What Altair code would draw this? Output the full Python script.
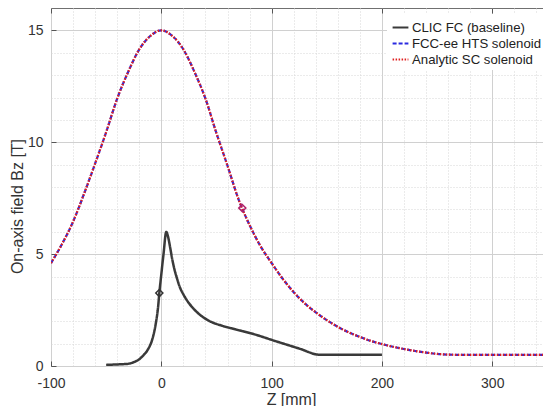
import altair as alt
import pandas as pd

# CLIC FC (baseline)
z_clic = [-50, -40, -30, -25, -20, -16, -12, -8, -5, -3, -1.8, 0, 2, 4.5, 6, 8, 10, 12, 14, 17, 20, 24, 30, 36, 44, 55, 67, 82, 103, 125, 144, 200]
b_clic = [0.05, 0.07, 0.1, 0.17, 0.3, 0.49, 0.75, 1.22, 1.9, 2.6, 3.26, 4.1, 5.0, 6.0, 5.8, 5.3, 4.75, 4.3, 3.95, 3.5, 3.2, 2.88, 2.52, 2.25, 2.0, 1.8, 1.64, 1.45, 1.12, 0.78, 0.5, 0.5]

# FCC-ee HTS solenoid / analytic SC solenoid (overlapping)
z_sol = [-100, -90, -80, -70, -60, -50, -40, -30, -20, -10, 0, 10, 20, 30, 40, 50, 60, 70, 80, 90, 100,
         110, 120, 130, 140, 150, 160, 170, 180, 190, 200, 210, 220, 230, 240, 250, 260, 270, 350]
b_fcc = [4.6, 5.45, 6.45, 7.7, 9.05, 10.45, 11.95, 13.15, 14.15, 14.75, 15.0, 14.75, 14.15, 13.15, 11.95, 10.4, 8.95, 7.45, 6.3, 5.35, 4.6,
         3.9, 3.3, 2.8, 2.4, 2.05, 1.75, 1.5, 1.3, 1.12, 0.98, 0.86, 0.76, 0.67, 0.6, 0.54, 0.51, 0.5, 0.5]
b_analytic = list(b_fcc)

# markers
marker_z = [-1.8, 73.4]
marker_b = [3.26, 7.06]
marker_color = ["#333333", "#b0206a"]

series_names = ["CLIC FC (baseline)", "FCC-ee HTS solenoid", "Analytic SC solenoid"]
series_colors = ["#3a3a3a", "#2a2ae0", "#e02020"]
series_dash = [[1, 0], [4, 2], [1.5, 1.5]]

x_major = [-100, 0, 100, 200, 300]
y_major = [0, 5, 10, 15]

df = pd.concat([
    pd.DataFrame({"z": z_clic, "b": b_clic, "series": series_names[0]}),
    pd.DataFrame({"z": z_sol, "b": b_fcc, "series": series_names[1]}),
    pd.DataFrame({"z": z_sol, "b": b_analytic, "series": series_names[2]}),
])
mdf = pd.DataFrame({"z": marker_z, "b": marker_b, "c": marker_color})

x_grid = list(range(-100, 347, 20))
y_grid = list(range(0, 16, 1))

x_axis = alt.Axis(values=x_grid, title="Z [mm]", orient="bottom",
                  labelExpr="datum.value % 100 === 0 ? '' + datum.value : ''",
                  gridDash={"expr": "datum.value % 100 === 0 ? [] : [1, 2]"},
                  gridColor={"expr": "datum.value % 100 === 0 ? '#d0d0d0' : '#d6d6d6'"},
                  ticks=False, domain=False, labelPadding=10,
                  labelFlush=False, labelOverlap=False, labelBound=False,
                  titleX=240, titleY=38, titleBaseline="alphabetic")
y_axis = alt.Axis(values=y_grid, title="On-axis field Bz [T]", orient="left",
                  labelExpr="datum.value % 5 === 0 ? '' + datum.value : ''",
                  gridDash={"expr": "datum.value % 5 === 0 ? [] : [1, 2]"},
                  gridColor={"expr": "datum.value % 5 === 0 ? '#d0d0d0' : '#d6d6d6'"},
                  ticks=False, domain=False, labelPadding=8,
                  labelOverlap=False, labelFlush=False, labelBound=False,
                  titleX=-34, titleY=198, titleBaseline="middle", titleAlign="center")

x_scale = alt.Scale(domain=[-100, 346], nice=False, zero=False)
y_scale = alt.Scale(domain=[0, 16], nice=False)
x_enc = alt.X("z:Q", scale=x_scale, axis=x_axis)
y_enc = alt.Y("b:Q", scale=y_scale, axis=y_axis)

color_scale = alt.Scale(domain=series_names, range=series_colors)
dash_scale = alt.Scale(domain=series_names, range=series_dash)
legend = alt.Legend(title=None, orient="none", legendX=336, legendY=6,
                    symbolType="stroke", symbolSize=250, symbolStrokeWidth=2.2,
                    labelFontSize=13.2, labelColor="#222222", labelFont="Liberation Sans",
                    fillColor="white", padding=4, rowPadding=-5, labelOffset=2)

layers = []
widths = {series_names[0]: 2.5, series_names[1]: 2.2, series_names[2]: 2.2}
for name in series_names:
    layers.append(
        alt.Chart(df).transform_filter(alt.datum.series == name)
        .mark_line(interpolate="monotone", clip=True, strokeWidth=widths[name])
        .encode(x=x_enc, y=y_enc,
                color=alt.Color("series:N", scale=color_scale, legend=legend, sort=series_names),
                strokeDash=alt.StrokeDash("series:N", scale=dash_scale, legend=legend, sort=series_names))
    )

markers = alt.Chart(mdf).mark_point(shape="diamond", filled=False, size=50, strokeWidth=1.5, opacity=1).encode(
    x=x_enc, y=y_enc, stroke=alt.Stroke("c:N", scale=None))

main = alt.layer(*layers, markers)

tick_common = dict(domain=False, labels=False, grid=False, title="", ticks=True,
                   tickSize=5, tickColor="#555555", tickWidth=1, offset=-5)

ticks_bl = alt.Chart(mdf).mark_point(opacity=0).encode(
    x=alt.X("z:Q", scale=x_scale, axis=alt.Axis(orient="bottom", values=x_major, **tick_common)),
    y=alt.Y("b:Q", scale=y_scale, axis=alt.Axis(orient="left", values=y_major, **tick_common)),
)
ticks_top = alt.Chart(mdf).mark_point(opacity=0).encode(
    x=alt.X("z:Q", scale=x_scale, axis=alt.Axis(orient="top", values=x_major, **tick_common)),
    y=alt.Y("b:Q", scale=y_scale, axis=None),
)

chart = alt.layer(main, ticks_bl, ticks_top).resolve_axis(x="independent", y="independent").properties(
    width=492, height=358,
    autosize=alt.AutoSizeParams(type="none"),
    padding={"left": 51, "top": 8, "right": 0, "bottom": 40},
).configure_view(stroke="#707070", strokeWidth=1).configure_axis(
    labelFont="Liberation Sans", titleFont="Liberation Sans",
    labelFontSize=14, titleFontSize=16, labelColor="#333333", titleColor="#333333",
    titleFontWeight="normal", gridWidth=1
)

chart.save("out.html", embed_options={"renderer": "svg", "actions": False})
